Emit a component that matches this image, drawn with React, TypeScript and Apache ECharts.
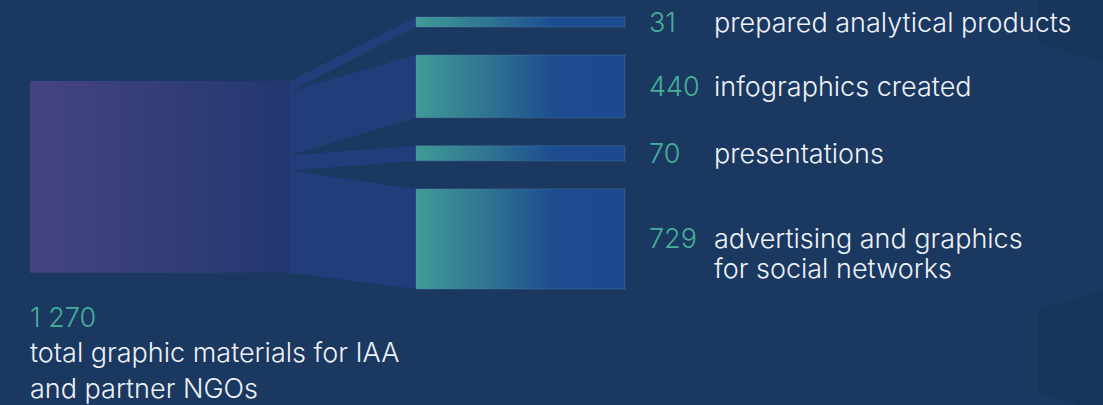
import React, { useEffect, useRef } from "react";
import * as echarts from "echarts";

// ---- data ----
const categories: string[] = [
  "prepared analytical products",
  "infographics created",
  "presentations",
  "advertising and graphics\nfor social networks",
];
const values: number[] = [31, 440, 70, 729];
const valueLabels: string[] = ["31", "440", "70", "729"];
const sourceName = "total graphic materials for IAA\nand partner NGOs";
const sourceValueLabel = "1 270";

// ---- layout constants (in axis units / styles) ----
const PAD = 46.5; // extra thickness per band (units)
const GAP = 217; // gap between right nodes (units)
const LEFT_TOP = 496; // left node top (units)
const LEFT_SCALE = 1.02;
const X_LEFT_END = 260;
const X_RIGHT_START = 386;
const X_RIGHT_END = 595;

const FONT = "Inter";
const FONT_CSS = `300 27px ${FONT}`;
const TEAL = "#45b09a";
const WHITE = "#eef2f7";
const BG = "#1a3860";

const heights = values.map((v) => v + PAD);
const rightTops: number[] = [];
const leftTops: number[] = [];
{
  let r = 0;
  let l = LEFT_TOP;
  heights.forEach((h) => {
    rightTops.push(r);
    leftTops.push(l);
    r += h + GAP;
    l += h * LEFT_SCALE;
  });
}
const yMax = rightTops[rightTops.length - 1] + heights[heights.length - 1];
const total = values.reduce((a, b) => a + b, 0);
const leftTotalHeight = heights.reduce((a, b) => a + b, 0) * LEFT_SCALE;

export default function App() {
  const ref = useRef<HTMLDivElement>(null);
  useEffect(() => {
    if (!ref.current) return;
    const chart = echarts.init(ref.current, null, { renderer: "svg" });
    const option: any = {
      animation: false,
      backgroundColor: BG,
      grid: { left: 30, top: 17, width: 595, height: 272 },
      xAxis: { type: "value", min: 0, max: 595, show: false },
      yAxis: { type: "value", min: 0, max: yMax, inverse: true, show: false },
      graphic: [
        {
          type: "polygon",
          silent: true,
          shape: { points: [[1038, 0], [1103, 0], [1103, 63], [1038, 42]] },
          style: { fill: "rgba(20,45,80,0.3)" },
        },
        {
          type: "polygon",
          silent: true,
          shape: { points: [[1038, 310], [1103, 290], [1103, 405], [1080, 405], [1038, 392]] },
          style: { fill: "rgba(20,45,80,0.3)" },
        },
      ],
      series: [
        {
          type: "custom",
          coordinateSystem: "cartesian2d",
          data: [[0, total]],
          renderItem: (params: any, api: any) => {
            const [x0, y0] = api.coord([0, LEFT_TOP]);
            const [x1, y1] = api.coord([X_LEFT_END, LEFT_TOP + leftTotalHeight]);
            return {
              type: "group",
              children: [
                {
                  type: "rect",
                  shape: { x: x0, y: y0, width: x1 - x0, height: y1 - y0 },
                  style: {
                    fill: new echarts.graphic.LinearGradient(0, 0, 1, 0, [
                      { offset: 0, color: "#454482" },
                      { offset: 1, color: "#233770" },
                    ]),
                  },
                },
                {
                  type: "text",
                  style: {
                    text: sourceValueLabel,
                    x: x0,
                    y: y1 + 45,
                    fill: TEAL,
                    font: FONT_CSS,
                    verticalAlign: "middle",
                  },
                },
                {
                  type: "text",
                  style: {
                    text: sourceName,
                    x: x0,
                    y: y1 + 80 - 18,
                    fill: WHITE,
                    font: FONT_CSS,
                    lineHeight: 36,
                    verticalAlign: "top",
                  },
                },
              ],
            };
          },
        },
        {
          type: "custom",
          coordinateSystem: "cartesian2d",
          data: values.map((v, i) => [i, v]),
          renderItem: (params: any, api: any) => {
            const i = params.dataIndex;
            const xl = api.coord([X_LEFT_END, 0])[0];
            const xr = api.coord([X_RIGHT_START, 0])[0];
            const xe = api.coord([X_RIGHT_END, 0])[0];
            const ylt = api.coord([0, leftTops[i]])[1];
            const ylb = api.coord([0, leftTops[i] + heights[i] * LEFT_SCALE])[1];
            const yrt = api.coord([0, rightTops[i]])[1];
            const yrb = api.coord([0, rightTops[i] + heights[i]])[1];
            const cy = (yrt + yrb) / 2;
            return {
              type: "group",
              children: [
                {
                  type: "polygon",
                  shape: { points: [[xl, ylt], [xr, yrt], [xr, yrb], [xl, ylb]] },
                  style: { fill: "#233d7b" },
                },
                {
                  type: "rect",
                  shape: { x: xr, y: yrt, width: xe - xr, height: yrb - yrt },
                  style: {
                    fill: new echarts.graphic.LinearGradient(0, 0, 1, 0, [
                      { offset: 0, color: "#409b97" },
                      { offset: 0.35, color: "#2f7392" },
                      { offset: 0.67, color: "#1c4b90" },
                      { offset: 1, color: "#1b4a91" },
                    ]),
                    stroke: "rgba(90,140,180,0.35)",
                    lineWidth: 1,
                  },
                },
                {
                  type: "text",
                  style: {
                    text: valueLabels[i],
                    x: xe + 24,
                    y: cy,
                    fill: TEAL,
                    font: FONT_CSS,
                    verticalAlign: "middle",
                  },
                },
                {
                  type: "text",
                  style: {
                    text: categories[i],
                    x: xe + 89,
                    y: cy - 15,
                    fill: WHITE,
                    font: FONT_CSS,
                    lineHeight: 30,
                    verticalAlign: "top",
                  },
                },
              ],
            };
          },
        },
      ],
    };
    chart.setOption(option);
    return () => chart.dispose();
  }, []);
  return (
    <div
      ref={ref}
      style={{ position: "fixed", left: 0, top: 0, width: 1103, height: 405 }}
    />
  );
}
